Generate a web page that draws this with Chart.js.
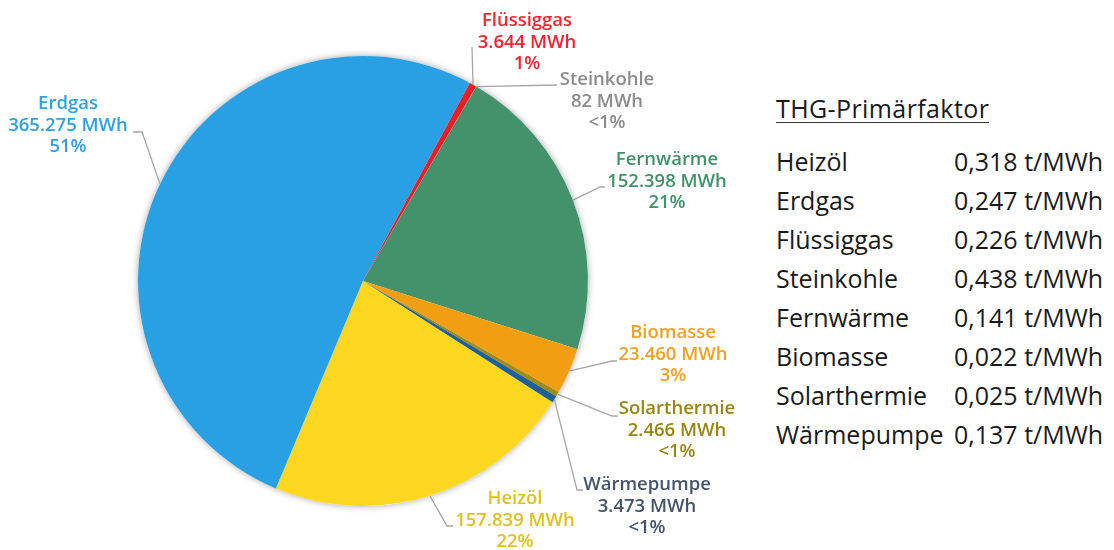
<!DOCTYPE html>
<html lang="de">
<head>
<meta charset="utf-8">
<title>Endenergie nach Energieträger</title>
<script src="https://cdn.jsdelivr.net/npm/chart.js@4.4.1/dist/chart.umd.min.js"></script>
<style>
  html, body { margin: 0; padding: 0; background: #fff; }
  #wrap { position: relative; width: 1114px; height: 550px; overflow: hidden; }
  #pie { position: absolute; left: 0; top: 0; }
  .factors { position: absolute; left: 776px; top: 0; font-family: 'Open Sans', sans-serif; font-size: 25px; color: #1a1a1a; }
  .factors div { position: absolute; white-space: nowrap; line-height: 30px; }
  .factors .title { border-bottom: 1.5px solid #333; line-height: 28px; letter-spacing: 0.4px; }
</style>
</head>
<body>
<div id="wrap">
  <canvas id="pie" width="740" height="550"></canvas>
  <div class="factors" id="factors"></div>
</div>
<script>
/*--------------------DATA--------------------*/
const energy = ['Heizöl', 'Erdgas', 'Flüssiggas', 'Steinkohle', 'Fernwärme', 'Biomasse', 'Solarthermie', 'Wärmepumpe'];
const mwh = [157839, 365275, 3644, 82, 152398, 23460, 2466, 3473];
const shareLabels = ['22%', '51%', '1%', '<1%', '21%', '3%', '<1%', '<1%'];

const factorTitle = 'THG-Primärfaktor';
const factorNames = ['Heizöl', 'Erdgas', 'Flüssiggas', 'Steinkohle', 'Fernwärme', 'Biomasse', 'Solarthermie', 'Wärmepumpe'];
const factorValues = ['0,318', '0,247', '0,226', '0,438', '0,141', '0,022', '0,025', '0,137'];
const factorUnit = 't/MWh';

/*--------------------STYLE--------------------*/
const sliceColors = ['#fdd71f', '#29a0e3', '#ee1c25', '#a5a5a5', '#43926b', '#f19e12', '#a08c12', '#1f6098'];
const textColors = ['#e3c01b', '#2ca2e6', '#f5232d', '#8c8c8c', '#3f9369', '#f4a11f', '#9a8511', '#44546a'];

// elbow / end of the leader line and centre of the first text line, per slice
const callouts = [
    { elbow: [447, 526], end: [453, 526], text: [515, 499] },
    { elbow: [142, 132], end: [133, 132], text: [68, 104] },
    { elbow: [472, 47], end: [472, 47], text: [527, 21] },
    { elbow: [557, 85], end: [557, 85], text: [607, 80] },
    { elbow: [600, 187], end: [605, 187], text: [667, 160] },
    { elbow: [612, 361], end: [617, 361], text: [673, 333] },
    { elbow: [612, 416], end: [618, 416], text: [677, 409] },
    { elbow: [577, 490], end: [583, 490], text: [647, 485] }
];
const lineGap = 21.5;

function fmtMWh(v) {
    return String(v).replace(/\B(?=(\d{3})+(?!\d))/g, '.') + ' MWh';
}

/*--------------------PLUGIN--------------------*/
const calloutPlugin = {
    id: 'callouts',
    beforeDatasetsDraw(chart) {
        const first = chart.getDatasetMeta(0).data[0];
        const ctx = chart.ctx;
        ctx.save();
        ctx.shadowColor = 'rgba(0,0,0,0.35)';
        ctx.shadowBlur = 7;
        ctx.fillStyle = '#fff';
        ctx.beginPath();
        ctx.arc(first.x, first.y, first.outerRadius, 0, Math.PI * 2);
        ctx.fill();
        ctx.restore();
    },
    afterDatasetsDraw(chart) {
        const ctx = chart.ctx;
        chart.getDatasetMeta(0).data.forEach((arc, i) => {
            const c = callouts[i];
            const mid = (arc.startAngle + arc.endAngle) / 2;
            const sx = arc.x + Math.cos(mid) * arc.outerRadius;
            const sy = arc.y + Math.sin(mid) * arc.outerRadius;
            ctx.save();
            ctx.strokeStyle = '#a6a6a6';
            ctx.lineWidth = 1.3;
            ctx.beginPath();
            ctx.moveTo(sx, sy);
            ctx.lineTo(c.elbow[0], c.elbow[1]);
            ctx.lineTo(c.end[0], c.end[1]);
            ctx.stroke();

            ctx.fillStyle = textColors[i];
            ctx.font = '600 18.5px "Open Sans"';
            ctx.textAlign = 'center';
            ctx.textBaseline = 'middle';
            const lines = [energy[i], fmtMWh(mwh[i]), shareLabels[i]];
            lines.forEach((t, k) => ctx.fillText(t, c.text[0], c.text[1] + k * lineGap));
            ctx.restore();
        });
    }
};

/*--------------------CHART--------------------*/
let pieCanvas = document.getElementById('pie');
let pieChart = new Chart(pieCanvas, {
    type: 'pie',
    data: {
        labels: energy,
        datasets: [{
            data: mwh,
            backgroundColor: sliceColors,
            borderWidth: 0
        }]
    },
    options: {
        responsive: false,
        animation: false,
        rotation: 122.6,
        layout: { padding: { left: 138, right: 152, top: 56, bottom: 44 } },
        plugins: {
            legend: { display: false },
            tooltip: { enabled: false }
        }
    },
    plugins: [calloutPlugin]
});

/*--------------------TABLE--------------------*/
let box = document.getElementById('factors');
let title = document.createElement('div');
title.className = 'title';
title.textContent = factorTitle;
title.style.left = '0px';
title.style.top = '94px';
box.appendChild(title);

factorNames.forEach((n, i) => {
    let y = 162 + i * 39 - 16;
    let name = document.createElement('div');
    name.textContent = n;
    name.style.left = '0px';
    name.style.top = y + 'px';
    box.appendChild(name);
    let val = document.createElement('div');
    val.textContent = factorValues[i] + ' ' + factorUnit;
    val.style.left = '178px';
    val.style.top = y + 'px';
    box.appendChild(val);
});
</script>
</body>
</html>
